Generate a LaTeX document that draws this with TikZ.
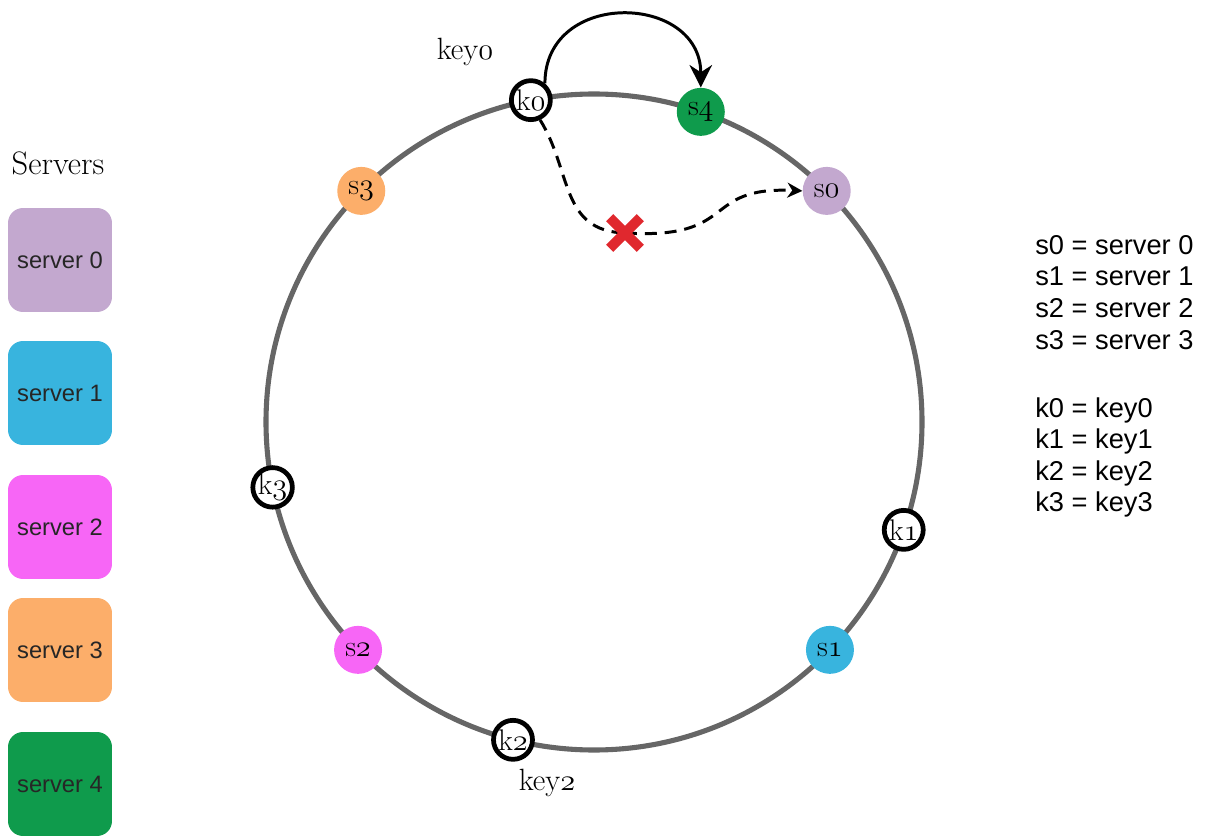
\documentclass[tikz,border=0pt]{standalone}
\usepackage{fontspec}
\usepackage{tikz}
\usetikzlibrary{arrows.meta, positioning}
\newfontfamily\legendfont{Liberation Sans}
\newcommand\osf[1]{\ensuremath{\mathnormal{#1}}}
\definecolor{Lilac}{HTML}{C3A8CF}
\definecolor{Sky}{HTML}{38B4DE}
\definecolor{Orchid}{HTML}{F766F6}
\definecolor{Apricot}{HTML}{FCAE6A}
\definecolor{Emerald}{HTML}{0F9B4C}
\definecolor{RingGray}{HTML}{666666}
\definecolor{CrossRed}{HTML}{E0282E}

\begin{document}
\begin{tikzpicture}[x=0.02cm, y=0.02cm,
    ring/.style={draw=RingGray, line width=2.9pt},
    server/.style={circle, minimum size=0.96cm, inner sep=0pt, font=\fontsize{17}{17}\selectfont},
    key/.style={circle, draw=black, fill=white, line width=2.7pt, minimum size=0.78cm, inner sep=0pt, font=\fontsize{17}{17}\selectfont},
    srvbox/.style={rectangle, rounded corners=0.3cm, minimum width=2.08cm, minimum height=2.08cm, text=black!85, font=\legendfont\fontsize{13.5}{16}\selectfont},
    legend/.style={align=left, inner sep=0pt, font=\legendfont\fontsize{15.5}{18}\selectfont},
    tag/.style={inner sep=0pt, font=\fontsize{17.5}{19}\selectfont},
    hop/.style={-{Stealth[length=4.5mm, width=4.5mm]}, line width=1.7pt},
    miss/.style={dash pattern=on 6.8pt off 4.5pt, line width=1.7pt},
    xmark/.style={draw=CrossRed, line width=5.7pt}
]
\useasboundingbox (0,0) rectangle (1213,836);

% the hash ring
\coordinate (hub) at (594,414);
\draw[ring] (hub) circle[radius=328];

\node[server, fill=Lilac] (s0) at ([shift={(44.8:328)}]hub) {s\osf0};
\node[server, fill=Sky] (s1) at ([shift={(316:328)}]hub) {s\osf1};
\node[server, fill=Orchid] (s2) at ([shift={(224:328)}]hub) {s\osf2};
\node[server, fill=Apricot] (s3) at ([shift={(135.2:328)}]hub) {s\osf3};
\node[server, fill=Emerald] (s4) at ([shift={(71:328)}]hub) {s\osf4};

\node[key] (k0) at ([shift={(101.1:328)}]hub) {k\osf0};
\node[key] (k1) at ([shift={(340.8:328)}]hub) {k\osf1};
\node[key] (k2) at ([shift={(255.7:328)}]hub) {k\osf2};
\node[key] (k3) at ([shift={(191.5:328)}]hub) {k\osf3};

\node[tag] (key0) at (465,784) {key\osf0};
\node[tag] (key2) at (547,53) {key\osf2};

% lookup paths
\node[minimum size=0.6cm, inner sep=0pt] (cut) at (625,603) {};
\draw[miss] (k0.-65) .. controls (572,665) and (560,605) .. (cut.center);
\draw[miss, -{Stealth[length=3mm, width=3mm]}] (cut.center) .. controls (740,596) and (700,650) .. (s0.west);
\draw[xmark] (cut.north west) -- (cut.south east) (cut.north east) -- (cut.south west);
\draw[hop] (k0.50) to[out=90, in=90, looseness=1.55] (s4.north);

% server list
\node[tag, font=\fontsize{18.5}{20}\selectfont] (title) at (58,673) {Servers};
\node[srvbox, fill=Lilac] (box0) at (60,576) {server 0};
\node[srvbox, fill=Sky] (box1) at (60,443) {server 1};
\node[srvbox, fill=Orchid] (box2) at (60,309) {server 2};
\node[srvbox, fill=Apricot] (box3) at (60,186) {server 3};
\node[srvbox, fill=Emerald] (box4) at (60,52) {server 4};

% legend
\node[legend, anchor=north west] (sdefs) at (1035,601) {s0 = server 0\\ s1 = server 1\\ s2 = server 2\\ s3 = server 3};
\node[legend, anchor=north west] (kdefs) at (1035,439) {k0 = key0\\ k1 = key1\\ k2 = key2\\ k3 = key3};
\end{tikzpicture}
\end{document}
